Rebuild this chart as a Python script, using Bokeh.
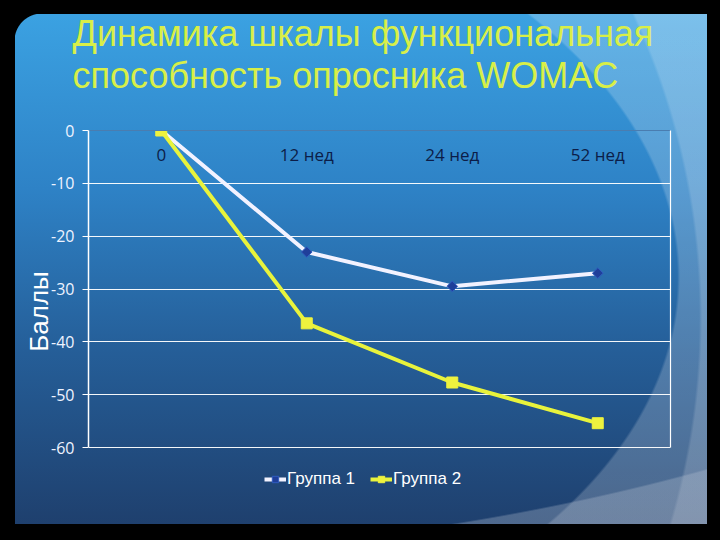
import numpy as np
from bokeh.plotting import figure
from bokeh.models import (Range1d, FactorRange, FixedTicker, Legend, LegendItem,
                          LinearAxis, ColumnDataSource, Title)
from bokeh.core.properties import value
from bokeh.embed import file_html
from bokeh.resources import INLINE

# ---------------- data ----------------
title_lines = ["Динамика шкалы функциональная", "способность опросника WOMAC"]
categories = ["0", "12 нед", "24 нед", "52 нед"]
group1 = [0, -23.0, -29.5, -27.0]
group2 = [0, -36.5, -47.7, -55.4]
series_names = ["Группа 1", "Группа 2"]
y_ticks = [0, -10, -20, -30, -40, -50, -60]
y_tick_labels = ["0", "-10", "-20", "-30", "-40", "-50", "-60"]
y_title = "Баллы"

# ---------------- figure ----------------
W, H = 720, 540
FRAME_TOP, FRAME_BOTTOM, AXIS_BOTTOM = 130, 492, 447   # pixel layout of the slide
px_per_unit = (AXIS_BOTTOM - FRAME_TOP) / (y_ticks[0] - y_ticks[-1])
y_start = y_ticks[0] - (FRAME_BOTTOM - FRAME_TOP) / px_per_unit

p = figure(width=W, height=H, x_range=FactorRange(*categories),
           y_range=Range1d(y_start, y_ticks[0]),
           output_backend="svg", toolbar_location=None, x_axis_location=None,
           min_border_left=88, min_border_right=50, min_border_top=FRAME_TOP,
           min_border_bottom=H - FRAME_BOTTOM)
p.border_fill_color = None
p.background_fill_color = None
p.outline_line_color = None

# slide background (gradient + light swooshes + black edge) as CSS behind the canvas
bg_layers = [
    "radial-gradient(circle at 42px 41px, rgba(0,0,0,0) 27px, #000 28px) 0 0 / 42px 41px no-repeat",
    "radial-gradient(ellipse 1303px 560px at 0px 0px, rgba(0,0,0,0) 99.7%, rgba(190,200,215,0.30) 100%)",
    "radial-gradient(ellipse 714px 718px at -12px 318px, rgba(255,255,255,0) 99.6%, rgba(255,255,255,0.16) 100%)",
    "radial-gradient(ellipse 692px 423px at -12px 277px, rgba(255,255,255,0) 99.6%, rgba(255,255,255,0.20) 100%)",
    "linear-gradient(to bottom, #3ca4e4 0%, #2e82c6 35%, #255e98 65%, #1e3d6a 100%)",
]
p.styles = {"background": ", ".join(bg_layers),
            "box-shadow": "inset 15px 14px 0 0 #000, inset -13px -16px 0 0 #000"}

# ---------------- axes & grid ----------------
yax = p.yaxis[0]
yax.ticker = FixedTicker(ticks=y_ticks)
yax.bounds = (y_ticks[-1], y_ticks[0])
yax.major_label_overrides = dict(zip(y_ticks, y_tick_labels))
yax.axis_line_color = "white"
yax.axis_line_width = 1.5
yax.major_tick_line_color = "white"
yax.major_tick_out = 6
yax.major_tick_in = 0
yax.minor_tick_line_color = None
yax.major_label_text_color = "#eef3ff"
yax.major_label_text_font = "Open Sans"
yax.major_label_text_font_size = "16px"
yax.major_label_standoff = 8
yax.axis_label = y_title
yax.axis_label_text_font = "Liberation Sans"
yax.axis_label_text_font_size = "26px"
yax.axis_label_text_font_style = "normal"
yax.axis_label_text_color = "white"
yax.axis_label_standoff = -6

p.ygrid.ticker = FixedTicker(ticks=y_ticks[1:])
p.ygrid.grid_line_color = "white"
p.ygrid.grid_line_width = 1
p.ygrid.grid_line_alpha = 0.95
p.xgrid.grid_line_color = None

# right border of the plot area
right_ax = LinearAxis(axis_line_color="white", axis_line_width=1.2,
                      major_tick_line_color=None, minor_tick_line_color=None,
                      ticker=FixedTicker(ticks=[]), bounds=(y_ticks[-1], y_ticks[0]))
p.add_layout(right_ax, "right")
# top border of the plot area
top_ax = LinearAxis(axis_line_color="#4a7db0", axis_line_width=1,
                    major_tick_line_color=None, minor_tick_line_color=None,
                    major_label_standoff=0, ticker=FixedTicker(ticks=[]))
p.add_layout(top_ax, "above")

# ---------------- series ----------------
src = ColumnDataSource(dict(cat=categories, g1=group1, g2=group2))
l1 = p.line("cat", "g1", source=src, line_color="#f2f2ff", line_width=4)
m1 = p.scatter("cat", "g1", source=src, marker="square", angle=np.pi / 4, size=7.5,
               fill_color="#1f3f9a", line_color="#2f5cc0", line_width=1)
l2 = p.line("cat", "g2", source=src, line_color="#e8f33c", line_width=4)
m2 = p.scatter("cat", "g2", source=src, marker="square", size=11,
               fill_color="#eef23e", line_color="#eef23e")

# category labels just under the zero line
p.text(x=categories, y=[p.y_range.end] * len(categories), text=categories,
       y_offset=24, text_align="center", text_baseline="middle",
       text_color="#0c1d48", text_font=value("Open Sans"), text_font_size="17px")

# ---------------- legend (inside the frame, under the axis) ----------------
legend = Legend(items=[LegendItem(label=series_names[0], renderers=[l1, m1]),
                       LegendItem(label=series_names[1], renderers=[l2, m2])],
                orientation="horizontal", location=(176, 3),
                background_fill_alpha=0, border_line_color=None,
                label_text_color="white", label_text_font="Liberation Sans",
                label_text_font_size="17px", glyph_width=22, glyph_height=16,
                label_standoff=1, spacing=15, padding=0, margin=0, label_height=16)
p.add_layout(legend)

# ---------------- titles (two lines, stacked above the plot) ----------------
def make_title(text, standoff):
    kw = dict(text=text, align="left", offset=-16, text_font="Liberation Sans",
              text_font_size="36px", text_font_style="normal", text_color="#d8ef48")
    try:
        return Title(standoff=standoff, **kw)
    except Exception:
        return Title(standoff=0, **kw)

p.add_layout(make_title(title_lines[1], 70), "above")
p.add_layout(make_title(title_lines[0], -73), "above")

open("out.html", "w").write(file_html(p, INLINE))
